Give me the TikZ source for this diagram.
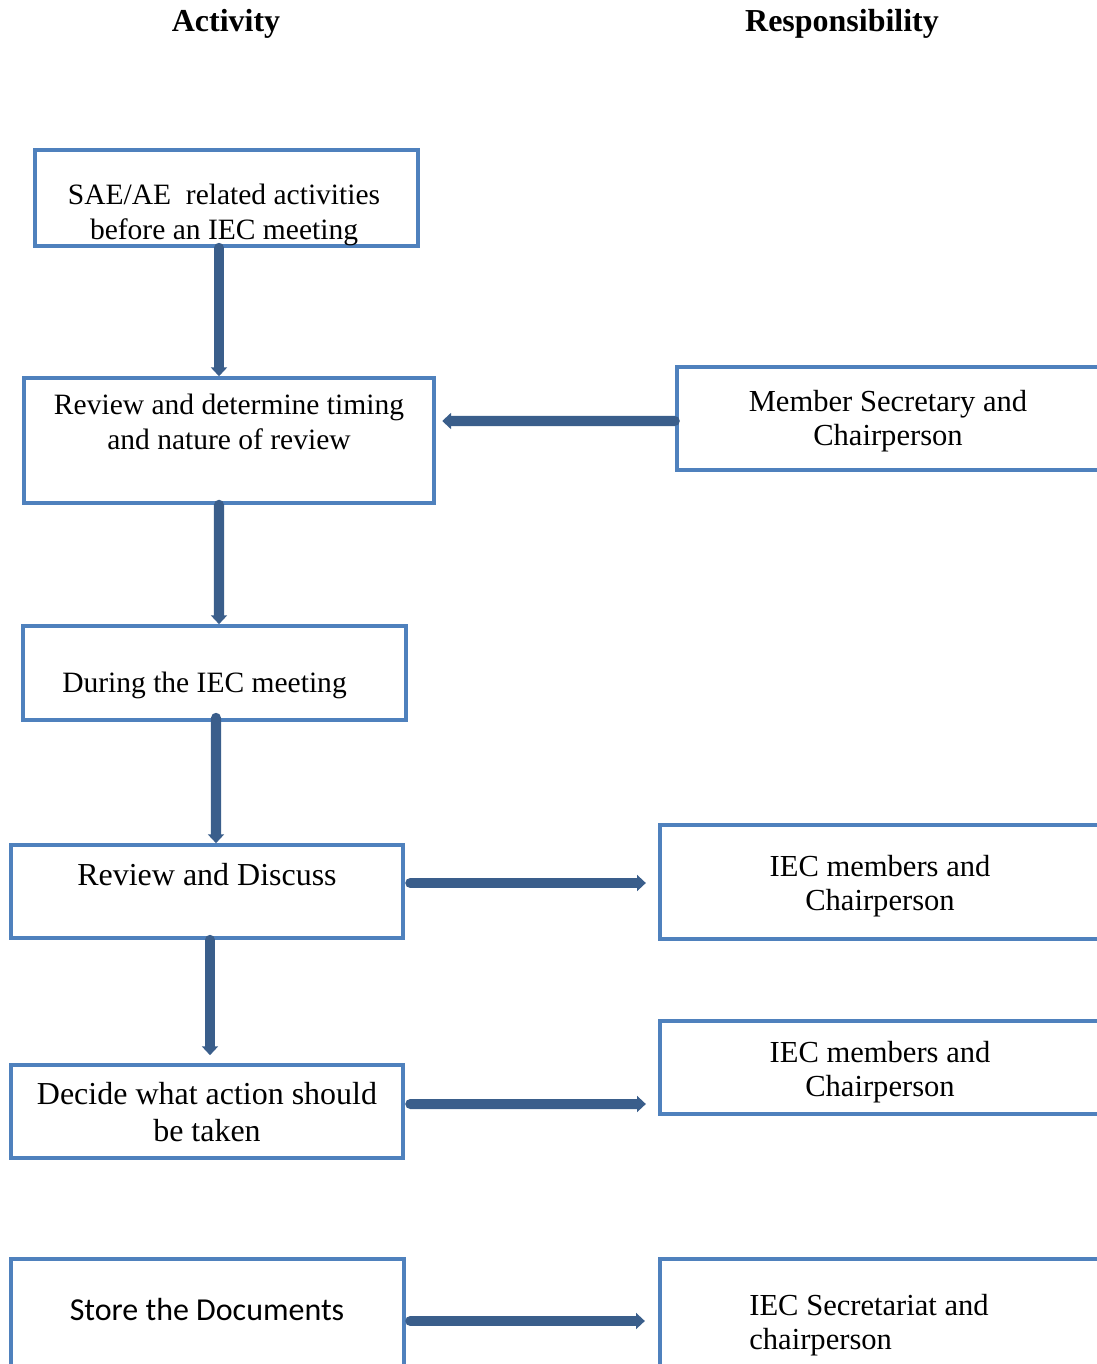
\documentclass[tikz,border=0pt]{standalone}
\usepackage{fontspec}
\setmainfont{Liberation Serif}
\newfontfamily\calfont{Carlito}
\usepackage{tikz}
\usetikzlibrary{positioning,arrows.meta,calc}
\definecolor{boxblue}{HTML}{4F81BD}
\definecolor{flowblue}{HTML}{3A5E8B}

\begin{document}
\begin{tikzpicture}[
  x=0.02cm, y=-0.02cm,
  box/.style={draw=boxblue, line width=2.27pt, inner sep=0pt},
  txt/.style={align=center, inner sep=0pt},
  small/.style={font=\fontsize{16.8}{20}\selectfont},
  big/.style={font=\fontsize{18.2}{21}\selectfont},
  side/.style={font=\fontsize{17.4}{19.4}\selectfont},
  flow/.style={draw=flowblue, line width=5.7pt, line cap=round,
    -{Triangle[length=5pt,width=9pt]}}
]
\useasboundingbox (0,0) rectangle (1097,1364);
\clip (0,0) rectangle (1097,1364);

\node (acthead) [txt, font=\fontsize{18.2}{21}\selectfont\bfseries] at (226,24) {Activity};
\node (resphead) [txt, font=\fontsize{18.2}{21}\selectfont\bfseries] at (842,24) {Responsibility};

\node (sae) [box, minimum width=385*0.567pt, minimum height=96*0.567pt] at (226.5,198) {};
\node (review) [box, minimum width=412*0.567pt, minimum height=125*0.567pt] at (229,440.5) {};
\node (during) [box, minimum width=385*0.567pt, minimum height=94*0.567pt] at (214.5,673) {};
\node (discuss) [box, minimum width=394*0.567pt, minimum height=93*0.567pt] at (207,891.5) {};
\node (decide) [box, minimum width=394*0.567pt, minimum height=93*0.567pt] at (207,1111.5) {};
\node (store) [box, minimum width=395*0.567pt, minimum height=121*0.567pt] at (207.5,1319.5) {};

\node (member) [box, minimum width=434*0.567pt, minimum height=103*0.567pt] at (893,418.5) {};
\node (iecone) [box, minimum width=451*0.567pt, minimum height=114*0.567pt] at (884.5,882) {};
\node (iectwo) [box, minimum width=451*0.567pt, minimum height=93*0.567pt] at (884.5,1067.5) {};
\node (iecsec) [box, minimum width=451*0.567pt, minimum height=121*0.567pt] at (884.5,1319.5) {};

\node (saetxt) [txt, small] at (224,215) {SAE/AE\ \ related activities\\ before an IEC meeting};
\node (reviewtxt) [txt, small] at (229,422) {Review and determine timing\\and nature of review};
\node (duringtxt) [txt, small] at (204.5,685) {During the IEC meeting};
\node (discusstxt) [txt, big] at (207,875) {Review and Discuss};
\node (decidetxt) [txt, big] at (207,1112) {Decide what action should\\be taken};
\node (storetxt) [txt, font=\calfont\fontsize{18.2}{21}\selectfont] at (207,1309) {Store the Documents};

\node (membertxt) [txt, side] at (888,421) {Member Secretary and\\Chairperson};
\node (ieconetxt) [txt, side] at (880,886) {IEC members and\\Chairperson};
\node (iectwotxt) [txt, side] at (880,1072) {IEC members and\\Chairperson};
\node (iecsectxt) [txt, side, align=left, anchor=west] at (749,1325) {IEC Secretariat and\\chairperson};

\draw[flow] ($(sae.south)+(-7.5,0)$) -- ($(review.north)+(-10,0)$);
\draw[flow] ($(review.south)+(-10,0)$) -- ($(during.north)+(4.5,0)$);
\draw[flow] ($(during.south)+(1.5,-4)$) -- ($(discuss.north)+(9,0)$);
\draw[flow] ($(discuss.south)+(3,0)$) -- ($(decide.north)+(3,-8)$);

\draw[flow] ($(member.west)+(0,2.5)$) -- ($(review.east)+(6,-19.5)$);
\draw[flow] ($(discuss.east)+(5,-8.5)$) -- ($(iecone.west)+(-12,1)$);
\draw[flow] ($(decide.east)+(5,-7.5)$) -- ($(iectwo.west)+(-12,36.5)$);
\draw[flow] ($(store.east)+(4,1.5)$) -- ($(iecsec.west)+(-13,1.5)$);
\end{tikzpicture}
\end{document}
